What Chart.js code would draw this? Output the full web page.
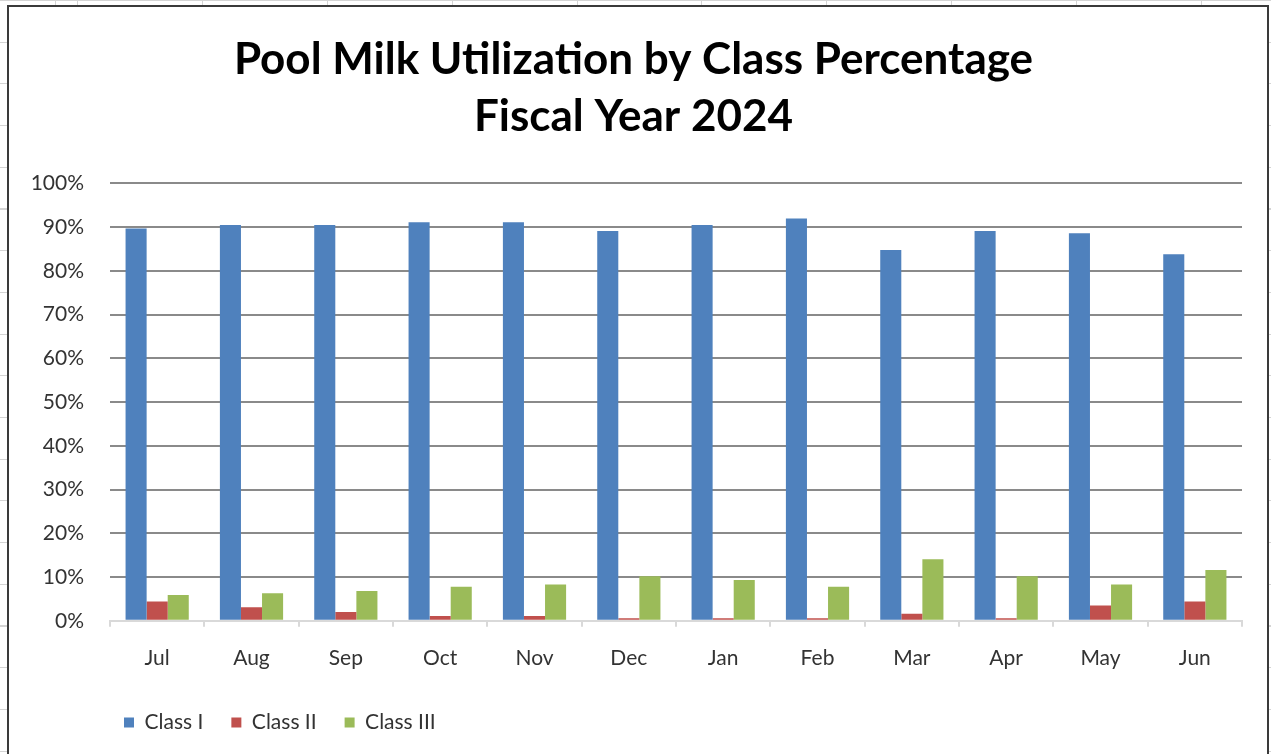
<!DOCTYPE html>
<html>
<head>
<meta charset="utf-8">
<title>Pool Milk Utilization by Class Percentage</title>
<script src="https://cdn.jsdelivr.net/npm/chart.js@4.4.1/dist/chart.umd.min.js"></script>
<style>
  html, body {
    margin: 0;
    padding: 0;
    width: 1271px;
    height: 754px;
    overflow: hidden;
    background-color: #fff;
    /* worksheet cell lines behind the chart object */
    background-image:
      repeating-linear-gradient(90deg, #d4d4d4 0 1px, transparent 1px 124.9px),
      repeating-linear-gradient(180deg, #d4d4d4 0 1px, transparent 1px 41.7px);
    background-position: 77px 0, 0 0;
  }
  #box {
    position: absolute;
    left: 7px;
    top: 5px;
    width: 1258px;
    height: 780px;
    background: #fff;
    border: 2px solid #3a3a3a;
  }
  #out {
    display: block;
  }
</style>
</head>
<body>
<div id="box"><canvas id="out" width="1258" height="780"></canvas></div>
<script>
const months = ["Jul", "Aug", "Sep", "Oct", "Nov", "Dec", "Jan", "Feb", "Mar", "Apr", "May", "Jun"];

// share of pool milk by class, percent
const classOne = [89.7, 90.5, 90.5, 91.1, 91.1, 89.1, 90.5, 92.0, 84.8, 89.1, 88.6, 83.8];
const classTwo = [4.4, 3.1, 2.0, 1.1, 1.1, 0.6, 0.6, 0.6, 1.6, 0.6, 3.5, 4.4];
const classThree = [5.9, 6.3, 6.8, 7.8, 8.3, 10.2, 9.3, 7.8, 14.1, 10.2, 8.3, 11.6];

const titleLines = ["Pool Milk Utilization by Class Percentage", "Fiscal Year 2024"];

const FONT = "Lato, 'Open Sans', sans-serif";

// nudge the bottom legend so it starts just inside the plot, a bit closer to the axis labels
const legendShift = {
  id: "legendShift",
  afterLayout(chart) {
    chart.legend.left -= 14;
    chart.legend.top -= 6;
  }
};

const canvasCtx = document.getElementById("out").getContext("2d");
const chartConfig = {
  type: "bar",
  data: {
    labels: months,
    datasets: [
      { label: "Class I", backgroundColor: "#4f81bd", data: classOne },
      { label: "Class II", backgroundColor: "#c0504d", data: classTwo },
      { label: "Class III", backgroundColor: "#9bbb59", data: classThree }
    ]
  },
  options: {
    responsive: false,
    animation: false,
    categoryPercentage: 0.67,
    barPercentage: 1.0,
    layout: {
      padding: { top: 0, left: 16, right: 25, bottom: 38 }
    },
    plugins: {
      tooltip: { enabled: false },
      title: {
        display: true,
        text: titleLines,
        color: "#000",
        font: { family: FONT, size: 44, weight: "bold", lineHeight: 1.3 },
        padding: { top: 24, bottom: 38 }
      },
      legend: {
        position: "bottom",
        align: "start",
        fullSize: false,
        labels: {
          boxWidth: 10,
          boxHeight: 10,
          padding: 28,
          color: "#333",
          font: { family: FONT, size: 21 }
        }
      }
    },
    scales: {
      x: {
        grid: {
          drawOnChartArea: false,
          drawTicks: true,
          tickLength: 6,
          color: "#d9d9d9",
          lineWidth: 2
        },
        border: { display: true, color: "#d9d9d9", width: 2 },
        ticks: {
          color: "#333",
          padding: 19,
          font: { family: FONT, size: 21 }
        }
      },
      y: {
        min: 0,
        max: 100,
        afterFit(scale) {
          scale.width = 85;
        },
        ticks: {
          stepSize: 10,
          padding: 26,
          color: "#333",
          font: { family: FONT, size: 21 },
          callback: v => v + "%"
        },
        grid: {
          drawTicks: false,
          lineWidth: 2,
          color: ctx => (ctx.tick && ctx.tick.value === 0 ? "#d9d9d9" : "#8a8a8a")
        },
        border: { display: false }
      }
    }
  },
  plugins: [legendShift]
};

window.chart = new Chart(canvasCtx, chartConfig);
</script>
</body>
</html>
